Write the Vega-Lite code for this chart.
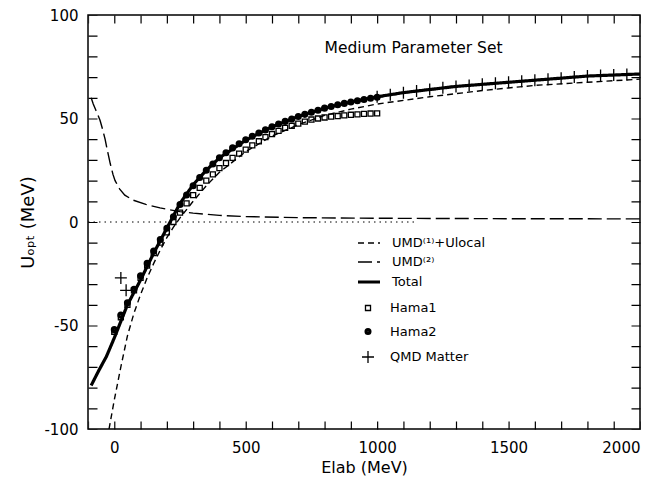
{
  "$schema": "https://vega.github.io/schema/vega-lite/v6.json",
  "width": 552,
  "height": 414,
  "autosize": {"type": "none"},
  "padding": {"left": 88, "top": 15, "right": 22, "bottom": 58},
  "background": "white",
  "datasets": {
    "lines": [
      {"series": "Total", "x": -88, "y": -79},
      {"series": "Total", "x": -60, "y": -72},
      {"series": "Total", "x": -30, "y": -65},
      {"series": "Total", "x": 0, "y": -56},
      {"series": "Total", "x": 25, "y": -48},
      {"series": "Total", "x": 50, "y": -40},
      {"series": "Total", "x": 75, "y": -34},
      {"series": "Total", "x": 100, "y": -28},
      {"series": "Total", "x": 150, "y": -15},
      {"series": "Total", "x": 200, "y": -3},
      {"series": "Total", "x": 225, "y": 3},
      {"series": "Total", "x": 250, "y": 9},
      {"series": "Total", "x": 300, "y": 18},
      {"series": "Total", "x": 350, "y": 25},
      {"series": "Total", "x": 400, "y": 31},
      {"series": "Total", "x": 500, "y": 39.5},
      {"series": "Total", "x": 600, "y": 46},
      {"series": "Total", "x": 700, "y": 51},
      {"series": "Total", "x": 800, "y": 55},
      {"series": "Total", "x": 900, "y": 58},
      {"series": "Total", "x": 1000, "y": 60.5},
      {"series": "Total", "x": 1100, "y": 62.5},
      {"series": "Total", "x": 1200, "y": 64},
      {"series": "Total", "x": 1300, "y": 65.5},
      {"series": "Total", "x": 1400, "y": 66.5},
      {"series": "Total", "x": 1500, "y": 67.5},
      {"series": "Total", "x": 1600, "y": 68.5},
      {"series": "Total", "x": 1700, "y": 69.5},
      {"series": "Total", "x": 1800, "y": 70.5},
      {"series": "Total", "x": 1900, "y": 71},
      {"series": "Total", "x": 2000, "y": 71.5},
      {"series": "UMD⁽¹⁾+Ulocal", "x": -20, "y": -100},
      {"series": "UMD⁽¹⁾+Ulocal", "x": 0, "y": -86},
      {"series": "UMD⁽¹⁾+Ulocal", "x": 25, "y": -70},
      {"series": "UMD⁽¹⁾+Ulocal", "x": 50, "y": -55},
      {"series": "UMD⁽¹⁾+Ulocal", "x": 75, "y": -44},
      {"series": "UMD⁽¹⁾+Ulocal", "x": 100, "y": -35},
      {"series": "UMD⁽¹⁾+Ulocal", "x": 125, "y": -27},
      {"series": "UMD⁽¹⁾+Ulocal", "x": 150, "y": -20},
      {"series": "UMD⁽¹⁾+Ulocal", "x": 175, "y": -13.5},
      {"series": "UMD⁽¹⁾+Ulocal", "x": 200, "y": -7.5},
      {"series": "UMD⁽¹⁾+Ulocal", "x": 225, "y": -2.5},
      {"series": "UMD⁽¹⁾+Ulocal", "x": 250, "y": 2},
      {"series": "UMD⁽¹⁾+Ulocal", "x": 300, "y": 10},
      {"series": "UMD⁽¹⁾+Ulocal", "x": 350, "y": 17.5},
      {"series": "UMD⁽¹⁾+Ulocal", "x": 400, "y": 24},
      {"series": "UMD⁽¹⁾+Ulocal", "x": 500, "y": 34},
      {"series": "UMD⁽¹⁾+Ulocal", "x": 600, "y": 41.5},
      {"series": "UMD⁽¹⁾+Ulocal", "x": 700, "y": 47},
      {"series": "UMD⁽¹⁾+Ulocal", "x": 800, "y": 51.5},
      {"series": "UMD⁽¹⁾+Ulocal", "x": 900, "y": 54.5},
      {"series": "UMD⁽¹⁾+Ulocal", "x": 1000, "y": 57},
      {"series": "UMD⁽¹⁾+Ulocal", "x": 1200, "y": 60.5},
      {"series": "UMD⁽¹⁾+Ulocal", "x": 1400, "y": 63.5},
      {"series": "UMD⁽¹⁾+Ulocal", "x": 1600, "y": 66},
      {"series": "UMD⁽¹⁾+Ulocal", "x": 1800, "y": 67.5},
      {"series": "UMD⁽¹⁾+Ulocal", "x": 2000, "y": 69},
      {"series": "UMD⁽²⁾", "x": -88, "y": 60},
      {"series": "UMD⁽²⁾", "x": -80, "y": 57},
      {"series": "UMD⁽²⁾", "x": -70, "y": 54},
      {"series": "UMD⁽²⁾", "x": -60, "y": 51},
      {"series": "UMD⁽²⁾", "x": -54, "y": 49},
      {"series": "UMD⁽²⁾", "x": -45, "y": 45},
      {"series": "UMD⁽²⁾", "x": -35, "y": 40},
      {"series": "UMD⁽²⁾", "x": -27, "y": 35},
      {"series": "UMD⁽²⁾", "x": -15, "y": 28},
      {"series": "UMD⁽²⁾", "x": -5, "y": 23},
      {"series": "UMD⁽²⁾", "x": 3, "y": 20},
      {"series": "UMD⁽²⁾", "x": 20, "y": 16},
      {"series": "UMD⁽²⁾", "x": 40, "y": 13},
      {"series": "UMD⁽²⁾", "x": 71, "y": 10.6},
      {"series": "UMD⁽²⁾", "x": 120, "y": 8.5},
      {"series": "UMD⁽²⁾", "x": 174, "y": 6.8},
      {"series": "UMD⁽²⁾", "x": 250, "y": 5},
      {"series": "UMD⁽²⁾", "x": 300, "y": 4.3},
      {"series": "UMD⁽²⁾", "x": 400, "y": 3.2},
      {"series": "UMD⁽²⁾", "x": 500, "y": 2.6},
      {"series": "UMD⁽²⁾", "x": 700, "y": 2.1},
      {"series": "UMD⁽²⁾", "x": 1000, "y": 1.8},
      {"series": "UMD⁽²⁾", "x": 1500, "y": 1.6},
      {"series": "UMD⁽²⁾", "x": 2000, "y": 1.5}
    ],
    "points": [
      {"series": "Hama1", "x": 0, "y": -53},
      {"series": "Hama1", "x": 25, "y": -46},
      {"series": "Hama1", "x": 50, "y": -40},
      {"series": "Hama1", "x": 75, "y": -33},
      {"series": "Hama1", "x": 100, "y": -27},
      {"series": "Hama1", "x": 125, "y": -21},
      {"series": "Hama1", "x": 150, "y": -15},
      {"series": "Hama1", "x": 175, "y": -10},
      {"series": "Hama1", "x": 200, "y": -5},
      {"series": "Hama1", "x": 225, "y": 0},
      {"series": "Hama1", "x": 250, "y": 4.5},
      {"series": "Hama1", "x": 275, "y": 9},
      {"series": "Hama1", "x": 300, "y": 13},
      {"series": "Hama1", "x": 325, "y": 16.5},
      {"series": "Hama1", "x": 350, "y": 20},
      {"series": "Hama1", "x": 375, "y": 23},
      {"series": "Hama1", "x": 400, "y": 26},
      {"series": "Hama1", "x": 425, "y": 28.5},
      {"series": "Hama1", "x": 450, "y": 31},
      {"series": "Hama1", "x": 475, "y": 33},
      {"series": "Hama1", "x": 500, "y": 35},
      {"series": "Hama1", "x": 525, "y": 37},
      {"series": "Hama1", "x": 550, "y": 39},
      {"series": "Hama1", "x": 575, "y": 41},
      {"series": "Hama1", "x": 600, "y": 42.5},
      {"series": "Hama1", "x": 625, "y": 44},
      {"series": "Hama1", "x": 650, "y": 45.5},
      {"series": "Hama1", "x": 675, "y": 46.5},
      {"series": "Hama1", "x": 700, "y": 47.5},
      {"series": "Hama1", "x": 725, "y": 48.5},
      {"series": "Hama1", "x": 750, "y": 49.5},
      {"series": "Hama1", "x": 775, "y": 50},
      {"series": "Hama1", "x": 800, "y": 50.5},
      {"series": "Hama1", "x": 825, "y": 50.9},
      {"series": "Hama1", "x": 850, "y": 51.2},
      {"series": "Hama1", "x": 875, "y": 51.5},
      {"series": "Hama1", "x": 900, "y": 51.8},
      {"series": "Hama1", "x": 925, "y": 52},
      {"series": "Hama1", "x": 950, "y": 52.2},
      {"series": "Hama1", "x": 975, "y": 52.4},
      {"series": "Hama1", "x": 1000, "y": 52.5},
      {"series": "Hama2", "x": 0, "y": -52},
      {"series": "Hama2", "x": 25, "y": -45},
      {"series": "Hama2", "x": 50, "y": -39},
      {"series": "Hama2", "x": 75, "y": -32.5},
      {"series": "Hama2", "x": 100, "y": -26},
      {"series": "Hama2", "x": 125, "y": -20},
      {"series": "Hama2", "x": 150, "y": -14},
      {"series": "Hama2", "x": 175, "y": -8.5},
      {"series": "Hama2", "x": 200, "y": -3},
      {"series": "Hama2", "x": 225, "y": 2.5},
      {"series": "Hama2", "x": 250, "y": 8.5},
      {"series": "Hama2", "x": 275, "y": 13},
      {"series": "Hama2", "x": 300, "y": 17.5},
      {"series": "Hama2", "x": 325, "y": 21.5},
      {"series": "Hama2", "x": 350, "y": 25},
      {"series": "Hama2", "x": 375, "y": 28},
      {"series": "Hama2", "x": 400, "y": 31},
      {"series": "Hama2", "x": 425, "y": 33.5},
      {"series": "Hama2", "x": 450, "y": 35.8},
      {"series": "Hama2", "x": 475, "y": 37.8},
      {"series": "Hama2", "x": 500, "y": 39.7},
      {"series": "Hama2", "x": 525, "y": 41.4},
      {"series": "Hama2", "x": 550, "y": 43},
      {"series": "Hama2", "x": 575, "y": 44.5},
      {"series": "Hama2", "x": 600, "y": 46},
      {"series": "Hama2", "x": 625, "y": 47.3},
      {"series": "Hama2", "x": 650, "y": 48.6},
      {"series": "Hama2", "x": 675, "y": 49.8},
      {"series": "Hama2", "x": 700, "y": 51},
      {"series": "Hama2", "x": 725, "y": 52},
      {"series": "Hama2", "x": 750, "y": 53},
      {"series": "Hama2", "x": 775, "y": 54},
      {"series": "Hama2", "x": 800, "y": 55},
      {"series": "Hama2", "x": 825, "y": 55.8},
      {"series": "Hama2", "x": 850, "y": 56.6},
      {"series": "Hama2", "x": 875, "y": 57.3},
      {"series": "Hama2", "x": 900, "y": 58},
      {"series": "Hama2", "x": 925, "y": 58.6},
      {"series": "Hama2", "x": 950, "y": 59.2},
      {"series": "Hama2", "x": 975, "y": 59.8},
      {"series": "Hama2", "x": 1000, "y": 60.3},
      {"series": "QMD Matter", "x": 25, "y": -27},
      {"series": "QMD Matter", "x": 45, "y": -33},
      {"series": "QMD Matter", "x": 1000, "y": 60.5},
      {"series": "QMD Matter", "x": 1050, "y": 61.5},
      {"series": "QMD Matter", "x": 1100, "y": 62.5},
      {"series": "QMD Matter", "x": 1150, "y": 63.3},
      {"series": "QMD Matter", "x": 1200, "y": 64},
      {"series": "QMD Matter", "x": 1250, "y": 64.8},
      {"series": "QMD Matter", "x": 1300, "y": 65.5},
      {"series": "QMD Matter", "x": 1350, "y": 66},
      {"series": "QMD Matter", "x": 1400, "y": 66.5},
      {"series": "QMD Matter", "x": 1450, "y": 67},
      {"series": "QMD Matter", "x": 1500, "y": 67.5},
      {"series": "QMD Matter", "x": 1550, "y": 68},
      {"series": "QMD Matter", "x": 1600, "y": 68.5},
      {"series": "QMD Matter", "x": 1650, "y": 69},
      {"series": "QMD Matter", "x": 1700, "y": 69.5},
      {"series": "QMD Matter", "x": 1750, "y": 70},
      {"series": "QMD Matter", "x": 1800, "y": 70.5},
      {"series": "QMD Matter", "x": 1850, "y": 70.8},
      {"series": "QMD Matter", "x": 1900, "y": 71},
      {"series": "QMD Matter", "x": 1950, "y": 71.3}
    ]
  },
  "layer": [
    {
      "data": {"values": [{}]},
      "mark": {"type": "rule", "stroke": "black", "strokeWidth": 1, "strokeDash": [1.5, 4]},
      "encoding": {
        "x": {"datum": -100, "type": "quantitative", "scale": {"domain": [-100, 2000], "nice": false, "zero": false},
          "axis": {"orient": "top", "labels": false, "ticks": false, "grid": false, "title": null,
            "domain": true, "domainColor": "black", "domainWidth": 8, "domainDash": [1.2, 25.0857], "domainDashOffset": 0.6, "offset": -4}},
        "x2": {"datum": 1150},
        "y": {"datum": 0, "type": "quantitative", "scale": {"domain": [-100, 100], "nice": false, "zero": false},
          "axis": {"orient": "right", "labels": false, "ticks": false, "grid": false, "title": null,
            "domain": true, "domainColor": "black", "domainWidth": 9, "domainDash": [1.2, 19.5], "domainDashOffset": 0.6, "offset": -4.5}}
      }
    },
    {
      "data": {"name": "lines"},
      "mark": {"type": "line", "stroke": "black", "clip": true},
      "encoding": {
        "x": {"field": "x", "type": "quantitative", "scale": {"domain": [-100, 2000], "nice": false, "zero": false},
          "axis": {"orient": "bottom", "values": [0,500,1000,1500,2000],
            "labelExpr": "toString(datum.value)", "ticks": false, "domain": false, "grid": false,
            "labelPadding": 11, "title": "Elab (MeV)", "titlePadding": 4, "titleFontSize": 16}},
        "y": {"field": "y", "type": "quantitative", "scale": {"domain": [-100, 100], "nice": false, "zero": false},
          "axis": {"orient": "left", "values": [-100,-50,0,50,100],
            "labelExpr": "toString(datum.value)", "ticks": false, "domain": false, "grid": false,
            "labelPadding": 10, "title": "Uₒₚₜ (MeV)", "titlePadding": 6, "titleFontSize": 18}},
        "strokeDash": {"field": "series", "type": "nominal",
          "scale": {"domain": ["UMD⁽¹⁾+Ulocal", "UMD⁽²⁾", "Total"], "range": [[6, 4], [14, 5], [1, 0]]},
          "legend": {"orient": "none", "legendX": 268, "legendY": 216, "title": null, "symbolSize": 484, "labelOffset": 10, "rowPadding": 0, "padding": 0}},
        "strokeWidth": {"field": "series", "type": "nominal",
          "scale": {"type": "ordinal", "domain": ["UMD⁽¹⁾+Ulocal", "UMD⁽²⁾", "Total"], "range": [1.4, 1.4, 3.2]},
          "legend": {"orient": "none", "legendX": 268, "legendY": 216, "title": null}}
      }
    },
    {
      "data": {"name": "points"},
      "mark": {"type": "point", "filled": false, "stroke": "black", "strokeWidth": 1.3, "opacity": 1, "size": 144, "clip": true},
      "encoding": {
        "x": {"field": "x", "type": "quantitative", "scale": {"domain": [-100, 2000], "nice": false, "zero": false},
          "axis": {"orient": "bottom", "labels": false, "ticks": false, "grid": false, "title": null,
            "domain": true, "domainColor": "black", "domainWidth": 8, "domainDash": [1.2, 25.0857], "domainDashOffset": 0.6, "offset": -4}},
        "y": {"field": "y", "type": "quantitative", "scale": {"domain": [-100, 100], "nice": false, "zero": false},
          "axis": {"orient": "left", "labels": false, "ticks": false, "grid": false, "title": null,
            "domain": true, "domainColor": "black", "domainWidth": 9, "domainDash": [1.2, 19.5], "domainDashOffset": 0.6, "offset": -4.5}},
        "shape": {"field": "series", "type": "nominal",
          "scale": {"domain": ["Hama1", "Hama2", "QMD Matter"],
            "range": ["M-0.42,-0.42H0.42V0.42H-0.42Z", "M0.48,0A0.48,0.48 0 1,1 -0.48,0A0.48,0.48 0 1,1 0.48,0ZM0.32,0A0.32,0.32 0 1,1 -0.32,0A0.32,0.32 0 1,1 0.32,0ZM0.16,0A0.16,0.16 0 1,1 -0.16,0A0.16,0.16 0 1,1 0.16,0Z", "M-1,0H1M0,-1V1"]},
          "legend": {"orient": "none", "legendX": 273, "legendY": 286, "title": null, "symbolSize": 144, "labelOffset": 15, "rowPadding": 9.5, "padding": 0, "symbolStrokeWidth": 1.3, "symbolStrokeColor": "black", "symbolFillColor": "transparent"}}
      }
    },
    {
      "data": {"values": [{}]},
      "mark": {"type": "text", "align": "left", "baseline": "middle", "font": "DejaVu Sans", "fontSize": 15.5, "fill": "black"},
      "encoding": {
        "text": {"value": "Medium Parameter Set"},
        "x": {"datum": 800, "type": "quantitative", "scale": {"domain": [-100, 2000], "nice": false, "zero": false}, "axis": null},
        "y": {"datum": 84, "type": "quantitative", "scale": {"domain": [-100, 100], "nice": false, "zero": false}, "axis": null}
      }
    }
  ],
  "resolve": {"scale": {"x": "independent", "y": "independent"}, "axis": {"x": "independent", "y": "independent"}},
  "config": {
    "view": {"stroke": "black", "strokeWidth": 1.5},
    "axis": {"labelColor": "black", "titleColor": "black",
      "labelFont": "DejaVu Sans", "titleFont": "DejaVu Sans", "labelFontSize": 15, "titleFontWeight": "normal"},
    "legend": {"labelFont": "DejaVu Sans", "labelFontSize": 13, "labelColor": "black", "symbolStrokeColor": "black"}
  }
}
